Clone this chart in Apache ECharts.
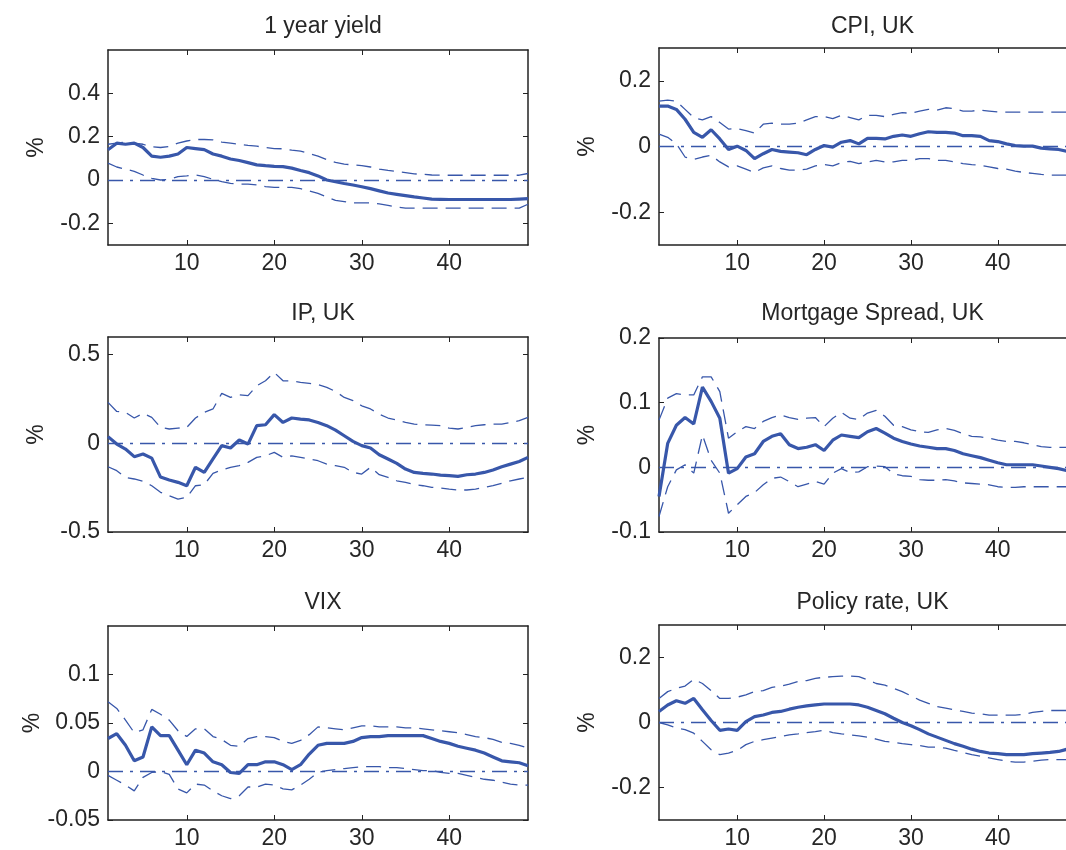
<!DOCTYPE html>
<html>
<head>
<meta charset="utf-8">
<script src="https://cdn.jsdelivr.net/npm/echarts@6/dist/echarts.min.js"></script>
<style>
html,body{margin:0;padding:0;background:#fff;}
#chart{width:1066px;height:850px;}
</style>
</head>
<body>
<div id="chart"></div>
<script>
// ---------------- data ----------------
const horizon = [1,2,3,4,5,6,7,8,9,10,11,12,13,14,15,16,17,18,19,20,21,22,23,24,25,26,27,28,29,30,31,32,33,34,35,36,37,38,39,40,41,42,43,44,45,46,47,48,49];
const xTickValues = [10,20,30,40];

const titles = ['1 year yield','CPI, UK','IP, UK','Mortgage Spread, UK','VIX','Policy rate, UK'];
const yUnit = '%';
const yRanges = [[-0.3,0.6],[-0.3,0.3],[-0.5,0.6],[-0.1,0.2],[-0.05,0.15],[-0.3,0.3]];
const yTickValues = [[-0.2,0,0.2,0.4],[-0.2,0,0.2],[-0.5,0,0.5],[-0.1,0,0.1,0.2],[-0.05,0,0.05,0.1],[-0.2,0,0.2]];

// 1 year yield
const median1 = [0.14,0.17,0.165,0.17,0.15,0.11,0.105,0.11,0.12,0.15,
  0.145,0.14,0.12,0.11,0.097,0.09,0.08,0.07,0.066,0.063,
  0.062,0.055,0.044,0.034,0.019,0.0,-0.008,-0.016,-0.023,-0.031,
  -0.04,-0.05,-0.06,-0.066,-0.072,-0.078,-0.083,-0.088,-0.089,-0.09,
  -0.09,-0.09,-0.09,-0.09,-0.09,-0.09,-0.09,-0.088,-0.086];
const upper1 = [0.165,0.17,0.175,0.17,0.165,0.153,0.15,0.155,0.17,0.18,
  0.187,0.187,0.185,0.175,0.17,0.165,0.16,0.156,0.15,0.145,
  0.144,0.138,0.133,0.122,0.11,0.094,0.081,0.073,0.07,0.066,
  0.06,0.05,0.044,0.039,0.034,0.028,0.027,0.023,0.022,0.022,
  0.022,0.022,0.022,0.022,0.022,0.022,0.022,0.022,0.03];
const lower1 = [0.078,0.06,0.05,0.04,0.023,0.008,0.0,0.003,0.016,0.019,
  0.023,0.016,0.003,-0.008,-0.016,-0.019,-0.019,-0.023,-0.031,-0.034,
  -0.034,-0.034,-0.04,-0.05,-0.062,-0.078,-0.094,-0.1,-0.106,-0.106,
  -0.106,-0.11,-0.117,-0.125,-0.13,-0.13,-0.13,-0.13,-0.13,-0.13,
  -0.13,-0.13,-0.13,-0.13,-0.13,-0.13,-0.13,-0.13,-0.112];

// CPI, UK
const median2 = [0.123,0.123,0.113,0.083,0.043,0.028,0.051,0.023,-0.009,0.001,
  -0.012,-0.037,-0.022,-0.009,-0.015,-0.017,-0.019,-0.025,-0.009,0.003,
  -0.002,0.013,0.018,0.008,0.025,0.025,0.023,0.031,0.035,0.031,
  0.039,0.045,0.043,0.043,0.041,0.033,0.033,0.031,0.018,0.015,
  0.008,0.003,0.001,0.001,-0.005,-0.007,-0.009,-0.015,-0.018];
const upper2 = [0.138,0.141,0.138,0.113,0.088,0.081,0.091,0.073,0.053,0.055,
  0.048,0.041,0.068,0.071,0.068,0.068,0.071,0.081,0.091,0.091,
  0.085,0.095,0.088,0.081,0.095,0.095,0.091,0.098,0.103,0.101,
  0.108,0.113,0.111,0.118,0.115,0.108,0.108,0.111,0.108,0.105,
  0.105,0.105,0.105,0.105,0.105,0.105,0.105,0.105,0.105];
const lower2 = [0.038,0.028,0.008,-0.032,-0.039,-0.032,-0.027,-0.047,-0.062,-0.059,
  -0.069,-0.079,-0.065,-0.059,-0.067,-0.072,-0.072,-0.069,-0.059,-0.055,
  -0.059,-0.049,-0.045,-0.052,-0.047,-0.042,-0.047,-0.047,-0.042,-0.042,
  -0.037,-0.037,-0.042,-0.042,-0.047,-0.052,-0.055,-0.057,-0.062,-0.067,
  -0.069,-0.075,-0.079,-0.082,-0.085,-0.087,-0.087,-0.087,-0.088];

// IP, UK
const median3 = [0.038,-0.004,-0.032,-0.075,-0.06,-0.083,-0.19,-0.207,-0.22,-0.239,
  -0.135,-0.164,-0.088,-0.013,-0.026,0.019,-0.004,0.1,0.105,0.162,
  0.118,0.143,0.137,0.132,0.118,0.1,0.075,0.043,0.011,-0.013,
  -0.026,-0.064,-0.088,-0.113,-0.145,-0.164,-0.169,-0.173,-0.179,-0.182,
  -0.186,-0.177,-0.173,-0.164,-0.15,-0.132,-0.117,-0.102,-0.079];
const upper3 = [0.231,0.18,0.175,0.143,0.169,0.147,0.09,0.081,0.086,0.09,
  0.143,0.175,0.194,0.282,0.259,0.274,0.269,0.325,0.353,0.4,
  0.353,0.353,0.344,0.338,0.331,0.316,0.293,0.259,0.241,0.212,
  0.194,0.165,0.143,0.132,0.118,0.109,0.105,0.103,0.1,0.086,
  0.081,0.09,0.1,0.105,0.109,0.109,0.118,0.128,0.147];
const lower3 = [-0.132,-0.154,-0.192,-0.201,-0.214,-0.239,-0.276,-0.295,-0.314,-0.305,
  -0.239,-0.233,-0.169,-0.15,-0.135,-0.126,-0.107,-0.079,-0.07,-0.051,
  -0.079,-0.07,-0.079,-0.088,-0.098,-0.117,-0.126,-0.135,-0.164,-0.173,
  -0.135,-0.177,-0.192,-0.211,-0.22,-0.233,-0.239,-0.248,-0.252,-0.258,
  -0.263,-0.263,-0.258,-0.248,-0.239,-0.226,-0.211,-0.201,-0.192];

// Mortgage Spread, UK
const median4 = [-0.045,0.037,0.065,0.077,0.067,0.124,0.102,0.076,-0.009,-0.002,
  0.016,0.021,0.04,0.048,0.052,0.035,0.029,0.031,0.035,0.026,
  0.042,0.05,0.048,0.046,0.055,0.06,0.053,0.045,0.04,0.036,
  0.033,0.031,0.029,0.029,0.026,0.021,0.018,0.015,0.011,0.007,
  0.004,0.004,0.004,0.004,0.002,0.0,-0.002,-0.005,-0.007];
const upper4 = [0.073,0.107,0.114,0.112,0.112,0.14,0.14,0.117,0.045,0.055,
  0.063,0.06,0.071,0.077,0.081,0.077,0.074,0.076,0.077,0.063,
  0.076,0.085,0.076,0.074,0.084,0.088,0.079,0.065,0.063,0.058,
  0.055,0.054,0.058,0.06,0.057,0.052,0.048,0.047,0.045,0.042,
  0.04,0.04,0.038,0.035,0.032,0.031,0.031,0.031,0.03];
const lower4 = [-0.076,-0.03,-0.004,0.004,-0.009,0.05,0.011,-0.009,-0.071,-0.058,
  -0.045,-0.039,-0.027,-0.017,-0.015,-0.022,-0.03,-0.026,-0.022,-0.026,
  -0.009,-0.002,-0.008,-0.007,0.001,0.002,0.001,-0.01,-0.013,-0.014,
  -0.019,-0.02,-0.02,-0.019,-0.021,-0.024,-0.025,-0.026,-0.027,-0.03,
  -0.031,-0.031,-0.03,-0.03,-0.03,-0.03,-0.03,-0.03,-0.03];

// VIX
const median5 = [0.034,0.039,0.027,0.011,0.015,0.046,0.037,0.037,0.022,0.007,
  0.022,0.019,0.01,0.007,-0.001,-0.002,0.007,0.007,0.01,0.01,
  0.007,0.002,0.007,0.018,0.027,0.029,0.029,0.029,0.031,0.035,
  0.036,0.036,0.037,0.037,0.037,0.037,0.037,0.034,0.031,0.029,
  0.026,0.024,0.022,0.019,0.015,0.011,0.01,0.009,0.006];
const upper5 = [0.072,0.065,0.053,0.04,0.043,0.064,0.059,0.053,0.042,0.036,
  0.044,0.044,0.036,0.033,0.027,0.026,0.034,0.036,0.036,0.035,
  0.031,0.029,0.032,0.038,0.046,0.045,0.044,0.043,0.045,0.047,
  0.047,0.046,0.046,0.046,0.045,0.045,0.044,0.043,0.042,0.041,
  0.04,0.038,0.036,0.035,0.033,0.03,0.029,0.027,0.024];
const lower5 = [-0.004,-0.009,-0.014,-0.02,-0.006,-0.001,0.0,-0.003,-0.018,-0.022,
  -0.013,-0.014,-0.02,-0.025,-0.028,-0.025,-0.016,-0.016,-0.013,-0.014,
  -0.018,-0.019,-0.014,-0.008,-0.001,0.001,0.002,0.003,0.004,0.005,
  0.005,0.005,0.004,0.004,0.003,0.002,0.001,0.001,-0.001,-0.002,
  -0.002,-0.004,-0.006,-0.008,-0.009,-0.011,-0.013,-0.014,-0.014];

// Policy rate, UK
const median6 = [0.034,0.054,0.067,0.059,0.074,0.039,0.006,-0.024,-0.02,-0.024,
  0.003,0.018,0.023,0.031,0.034,0.041,0.047,0.051,0.054,0.057,
  0.057,0.057,0.057,0.054,0.047,0.037,0.027,0.013,0.0,-0.01,
  -0.022,-0.035,-0.045,-0.055,-0.065,-0.073,-0.082,-0.089,-0.094,-0.096,
  -0.099,-0.099,-0.099,-0.096,-0.094,-0.092,-0.089,-0.082,-0.078];
const upper6 = [0.074,0.095,0.105,0.112,0.133,0.12,0.098,0.074,0.074,0.078,
  0.085,0.095,0.098,0.108,0.112,0.118,0.126,0.129,0.136,0.139,
  0.141,0.143,0.143,0.141,0.131,0.12,0.115,0.105,0.095,0.082,
  0.069,0.059,0.049,0.044,0.039,0.034,0.029,0.027,0.023,0.023,
  0.023,0.023,0.025,0.031,0.034,0.037,0.037,0.037,0.037];
const lower6 = [0.0,-0.007,-0.017,-0.022,-0.033,-0.058,-0.084,-0.099,-0.094,-0.086,
  -0.068,-0.058,-0.053,-0.048,-0.043,-0.038,-0.035,-0.031,-0.028,-0.024,
  -0.031,-0.035,-0.038,-0.041,-0.045,-0.051,-0.058,-0.061,-0.065,-0.068,
  -0.071,-0.076,-0.076,-0.079,-0.086,-0.092,-0.099,-0.104,-0.109,-0.114,
  -0.119,-0.122,-0.122,-0.119,-0.116,-0.114,-0.114,-0.114,-0.114];

const medians = [median1, median2, median3, median4, median5, median6];
const uppers = [upper1, upper2, upper3, upper4, upper5, upper6];
const lowers = [lower1, lower2, lower3, lower4, lower5, lower6];

// ---------------- layout & style ----------------
const gridBoxes = [
  {left:108, top:50,  width:420, height:195},
  {left:659, top:48,  width:417, height:197},
  {left:108, top:337, width:420, height:195},
  {left:659, top:338, width:417, height:194},
  {left:108, top:626, width:420, height:194},
  {left:659, top:625, width:417, height:195}
];
const titleTops = [10, 10, 297, 297, 586, 586];
const FONT = '"Liberation Sans", Arial, sans-serif';
const FS = 23;
const TXT = '#262626';
const BLUE = '#3857aa';
const AXLINE = {show:true, onZero:false, lineStyle:{color:'#222', width:1.5}};

const grids = [], xAxes = [], yAxes = [], series = [], titleArr = [];
const pairs = arr => horizon.map((h, i) => [h, arr[i]]);

for (let i = 0; i < 6; i++) {
  const g = gridBoxes[i];
  grids.push({left:g.left, top:g.top, width:g.width, height:g.height, containLabel:false, outerBoundsMode:'none'});
  titleArr.push({
    text: titles[i],
    left: g.left + g.width / 2,
    top: titleTops[i],
    textAlign: 'center',
    textStyle: {fontFamily: FONT, fontSize: FS, fontWeight: 'normal', color: TXT}
  });
  // bottom x
  xAxes.push({
    gridIndex:i, type:'value', min:1, max:49, position:'bottom',
    axisLine:AXLINE,
    axisTick:{show:true, inside:true, length:5, customValues:xTickValues, lineStyle:{color:'#222', width:1}},
    axisLabel:{show:true, customValues:xTickValues, margin:7, fontFamily:FONT, fontSize:FS, color:TXT},
    splitLine:{show:false}
  });
  // top mirror x
  xAxes.push({
    gridIndex:i, type:'value', min:1, max:49, position:'top',
    axisLine:AXLINE,
    axisTick:{show:true, inside:true, length:5, customValues:xTickValues, lineStyle:{color:'#222', width:1}},
    axisLabel:{show:false},
    splitLine:{show:false}
  });
  // left y
  yAxes.push({
    gridIndex:i, type:'value', min:yRanges[i][0], max:yRanges[i][1], position:'left',
    name: yUnit, nameLocation:'middle', nameRotate:90, nameGap:60,
    nameTextStyle:{fontFamily:FONT, fontSize:FS, color:TXT},
    axisLine:AXLINE,
    axisTick:{show:true, inside:true, length:5, customValues:yTickValues[i], lineStyle:{color:'#222', width:1}},
    axisLabel:{show:true, customValues:yTickValues[i], margin:8, fontFamily:FONT, fontSize:FS, color:TXT},
    splitLine:{show:false}
  });
  // right mirror y
  yAxes.push({
    gridIndex:i, type:'value', min:yRanges[i][0], max:yRanges[i][1], position:'right',
    axisLine:AXLINE,
    axisTick:{show:true, inside:true, length:5, customValues:yTickValues[i], lineStyle:{color:'#222', width:1}},
    axisLabel:{show:false},
    splitLine:{show:false}
  });

  const base = {type:'line', xAxisIndex:2*i, yAxisIndex:2*i, showSymbol:false, symbol:'none', silent:true, animation:false};
  series.push(Object.assign({}, base, {
    name:'upper'+(i+1), data:pairs(uppers[i]),
    lineStyle:{color:BLUE, width:1.3, type:[15,8]}
  }));
  series.push(Object.assign({}, base, {
    name:'lower'+(i+1), data:pairs(lowers[i]),
    lineStyle:{color:BLUE, width:1.3, type:[15,8]},
    markLine:{
      silent:true, symbol:['none','none'], animation:false,
      label:{show:false},
      lineStyle:{color:BLUE, width:1.3, type:[15,7,3,7]},
      data:[{yAxis:0}]
    }
  }));
  series.push(Object.assign({}, base, {
    name:'median'+(i+1), data:pairs(medians[i]),
    lineStyle:{color:BLUE, width:3.2}
  }));
}

const chart = echarts.init(document.getElementById('chart'), null, {renderer:'canvas'});
chart.setOption({
  backgroundColor:'#ffffff',
  animation:false,
  title:titleArr,
  grid:grids,
  xAxis:xAxes,
  yAxis:yAxes,
  series:series
});
</script>
</body>
</html>
